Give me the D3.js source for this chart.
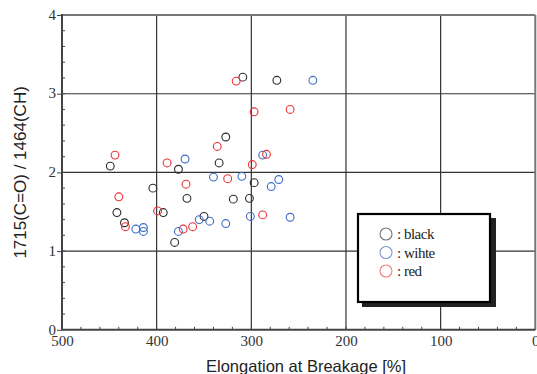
<!DOCTYPE html>
<html>
<head>
<meta charset="utf-8">
<script src="https://cdn.jsdelivr.net/npm/d3@7"></script>
<style>
  body { margin: 0; background: #fff; }
  svg { display: block; }
</style>
</head>
<body>
<div id="chart"></div>
<script>
// elongation [%] / ratio values
var blackX = [449, 377, 309, 327, 334, 297, 404, 273, 368, 319, 302, 350, 442, 434, 393, 381];
var blackY = [2.08, 2.04, 3.21, 2.45, 2.12, 1.87, 1.80, 3.17, 1.67, 1.66, 1.67, 1.44, 1.49, 1.36, 1.49, 1.11];

var whiteX = [370, 235, 288, 340, 310, 271, 279, 355, 344, 327, 301, 259, 422, 414, 414, 377];
var whiteY = [2.17, 3.17, 2.22, 1.94, 1.95, 1.91, 1.82, 1.40, 1.38, 1.35, 1.44, 1.43, 1.28, 1.30, 1.25, 1.25];

var redX = [444, 389, 316, 297, 259, 336, 299, 284, 325, 369, 440, 399, 433, 372, 362, 288];
var redY = [2.22, 2.12, 3.16, 2.77, 2.80, 2.33, 2.10, 2.23, 1.92, 1.85, 1.69, 1.51, 1.31, 1.28, 1.31, 1.46];

var xTicks = [500, 400, 300, 200, 100, 0];
var yTicks = [0, 1, 2, 3, 4];
var legendLabels = [": black", ": wihte", ": red"];

var width = 537, height = 374;
var margin = {top: 15, right: 1, bottom: 44, left: 62};

var svg = d3.select("#chart").append("svg")
    .attr("width", width)
    .attr("height", height);

var x = d3.scaleLinear().domain([500, 0]).range([margin.left, width - margin.right - 0.7]);
var y = d3.scaleLinear().domain([0, 4]).range([height - margin.bottom - 0.2, margin.top]);

//grid lines
svg.append("g").selectAll("line").data([400, 300, 200, 100]).enter().append("line")
    .attr("x1", function(d){ return x(d); }).attr("x2", function(d){ return x(d); })
    .attr("y1", y(0)).attr("y2", y(4))
    .style("stroke", "#222").style("stroke-width", 1.1);
svg.append("g").selectAll("line").data([1, 2, 3]).enter().append("line")
    .attr("x1", x(500)).attr("x2", x(0))
    .attr("y1", function(d){ return y(d); }).attr("y2", function(d){ return y(d); })
    .style("stroke", "#333").style("stroke-width", 1.1);

//minor ticks (inside)
svg.append("g").selectAll("line").data(d3.range(0, 501, 20)).enter().append("line")
    .attr("x1", function(d){ return x(d); }).attr("x2", function(d){ return x(d); })
    .attr("y1", y(0)).attr("y2", y(0) - 3)
    .style("stroke", "#444").style("stroke-width", 1);
svg.append("g").selectAll("line").data(d3.range(0, 4.01, 0.2)).enter().append("line")
    .attr("x1", x(500)).attr("x2", x(500) + 3)
    .attr("y1", function(d){ return y(d); }).attr("y2", function(d){ return y(d); })
    .style("stroke", "#444").style("stroke-width", 1);

//frame: top/right gray, left/bottom dark
svg.append("line").attr("x1", x(500)).attr("x2", x(0)).attr("y1", y(4)).attr("y2", y(4))
    .style("stroke", "#777").style("stroke-width", 2);
svg.append("line").attr("x1", x(0)).attr("x2", x(0)).attr("y1", y(4)).attr("y2", y(0))
    .style("stroke", "#777").style("stroke-width", 2);
svg.append("line").attr("x1", x(500)).attr("x2", x(0)).attr("y1", y(0)).attr("y2", y(0))
    .style("stroke", "#444").style("stroke-width", 2);
svg.append("line").attr("x1", x(500)).attr("x2", x(500)).attr("y1", y(4) - 1).attr("y2", y(0))
    .style("stroke", "#444").style("stroke-width", 2);

//axes labels via d3 axes
var xAxis = d3.axisBottom(x).tickValues(xTicks).tickFormat(d3.format("d")).tickSize(0).tickPadding(6);
var xg = svg.append("g").attr("transform", "translate(0," + y(0) + ")").call(xAxis);
xg.select(".domain").remove();
xg.selectAll("text").style("font-family", "'Liberation Serif', 'DejaVu Serif', serif")
    .style("font-size", "15px").style("fill", "#333");

var yAxis = d3.axisLeft(y).tickValues(yTicks).tickFormat(d3.format("d")).tickSize(5).tickPadding(1);
var yg = svg.append("g").attr("transform", "translate(" + x(500) + ",0)").call(yAxis);
yg.select(".domain").remove();
yg.selectAll("line").style("stroke", "#444");
yg.selectAll("text").style("font-family", "'Liberation Serif', 'DejaVu Serif', serif")
    .style("font-size", "15px").style("fill", "#333").attr("dy", "0.28em");

svg.append("text")
    .attr("x", 306).attr("y", 372)
    .attr("text-anchor", "middle")
    .style("font-family", "'Liberation Sans', Arial, sans-serif")
    .style("font-size", "16.5px").style("fill", "#222")
    .text("Elongation at Breakage [%]");

svg.append("text")
    .attr("transform", "translate(26," + y(2) + ") rotate(-90)")
    .attr("text-anchor", "middle")
    .style("font-family", "'Liberation Sans', Arial, sans-serif")
    .style("font-size", "17px").style("fill", "#222")
    .text("1715(C=O) / 1464(CH)");

//points
var series = [
    {xs: blackX, ys: blackY, color: "#2a2a2a"},
    {xs: whiteX, ys: whiteY, color: "#3d6cc4"},
    {xs: redX, ys: redY, color: "#ec2f36"}
];
series.forEach(function(s){
    svg.append("g").selectAll("circle").data(s.xs).enter().append("circle")
        .attr("cx", function(d){ return x(d); })
        .attr("cy", function(d, i){ return y(s.ys[i]); })
        .attr("r", 3.9)
        .style("fill", "none")
        .style("stroke", s.color)
        .style("stroke-width", 1.1);
});

//legend
var lg = svg.append("g");
lg.append("rect").attr("x", 362).attr("y", 218).attr("width", 134).attr("height", 89)
    .style("fill", "#222");
lg.append("rect").attr("x", 358).attr("y", 214).attr("width", 132).attr("height", 88)
    .style("fill", "#fff").style("stroke", "#000").style("stroke-width", 2.2);
var legendColors = ["#777", "#7d9ad6", "#f07d80"];
legendLabels.forEach(function(label, i){
    lg.append("circle").attr("cx", 386).attr("cy", 234 + i * 18.5).attr("r", 6)
        .style("fill", "none").style("stroke", legendColors[i]).style("stroke-width", 1.1);
    lg.append("text").attr("x", 397).attr("y", 239 + i * 18.5)
        .style("font-family", "'Liberation Serif', 'DejaVu Serif', serif")
        .style("font-size", "15px").style("fill", "#222").style("letter-spacing", "-0.5px")
        .text(label);
});
</script>
</body>
</html>
